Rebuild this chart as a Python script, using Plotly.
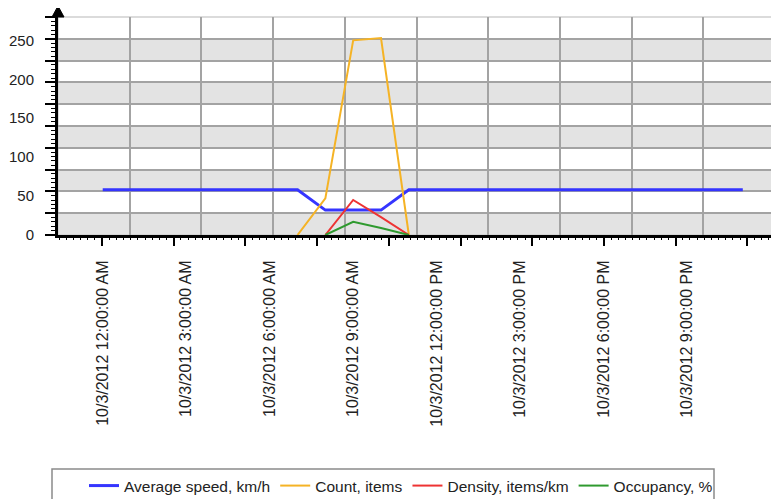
import plotly.graph_objects as go

# ---------------- data ----------------
hours = list(range(24))
times = [f"2012-10-03 {h:02d}:00:00" for h in hours]

speed = [58, 58, 58, 58, 58, 58, 58, 58, 32, 32, 32, 58,
         58, 58, 58, 58, 58, 58, 58, 58, 58, 58, 58, 58]
count = [None, None, None, None, None, None, None, 0, 47, 250, 253, 0,
         None, None, None, None, None, None, None, None, None, None, None, None]
density = [None, None, None, None, None, None, None, None, 0, 45, 23, 0,
           None, None, None, None, None, None, None, None, None, None, None, None]
occupancy = [None, None, None, None, None, None, None, None, 0, 17, 9, 0,
             None, None, None, None, None, None, None, None, None, None, None, None]

series_names = ["Average speed, km/h", "Count, items", "Density, items/km", "Occupancy, %"]
series_colors = ["#3535ff", "#f5b325", "#ee3333", "#2f9a2f"]
series_widths = [3, 2, 2, 2]

tick_times = ["2012-10-03 00:00:00", "2012-10-03 03:00:00", "2012-10-03 06:00:00",
              "2012-10-03 09:00:00", "2012-10-03 12:00:00", "2012-10-03 15:00:00",
              "2012-10-03 18:00:00", "2012-10-03 21:00:00"]
tick_text = ["10/3/2012 12:00:00 AM", "10/3/2012 3:00:00 AM", "10/3/2012 6:00:00 AM",
             "10/3/2012 9:00:00 AM", "10/3/2012 12:00:00 PM", "10/3/2012 3:00:00 PM",
             "10/3/2012 6:00:00 PM", "10/3/2012 9:00:00 PM"]
y_ticks = [0, 50, 100, 150, 200, 250]

x_range = ["2012-10-02 22:23:36", "2012-10-04 00:09:25"]
y_range = [0, 280]

# ---------------- layout geometry ----------------
# page body has an 8px margin, so the figure is offset by (8, 8)
OFF = 8
W, H = 779 - OFF, 499 - OFF
ML, MR, MT = 58 - OFF, 4, 17 - OFF
PW = W - ML - MR          # 717
PH = 218
MB = H - MT - PH
PLOT_TOP = 17             # page pixel of plot top
FONT = "Liberation Sans, Arial, sans-serif"


def py(page_y):
    """page pixel y -> paper y"""
    return (PLOT_TOP + PH - page_y) / PH


def px(page_x):
    """page pixel x -> paper x"""
    return (page_x - 58) / PW


fig = go.Figure()
for name, vals, col, lw in zip(series_names, [speed, count, density, occupancy],
                               series_colors, series_widths):
    fig.add_trace(go.Scatter(x=times, y=vals, mode="lines", name=name,
                             line=dict(color=col, width=lw), connectgaps=False))

# dummy traces to activate helper axes
fig.add_trace(go.Scatter(x=[None], y=[None], xaxis="x2", yaxis="y2",
                         showlegend=False, hoverinfo="skip"))
fig.add_trace(go.Scatter(x=[None], y=[None], xaxis="x3", yaxis="y2",
                         showlegend=False, hoverinfo="skip"))

shapes = []
# alternating bands
for k in range(0, 10, 2):
    shapes.append(dict(type="rect", xref="paper", yref="y2", x0=0, x1=1, y0=k, y1=k + 1,
                       fillcolor="#e3e3e3", line=dict(width=0), layer="below"))
# plot border (light)
shapes.append(dict(type="rect", xref="paper", yref="paper", x0=0, x1=1, y0=0, y1=1,
                   line=dict(color="#cfcfcf", width=1.5), layer="below"))
# arrow on y axis
shapes.append(dict(type="path", xref="paper", yref="paper",
                   path=f"M {-6/PW} 1 L {6/PW} 1 L 0 {1 + 11/PH} Z",
                   fillcolor="black", line=dict(color="black", width=1)))
# arrow on x axis
shapes.append(dict(type="path", xref="paper", yref="paper",
                   path=f"M 1 {6/PH} L 1 {-6/PH} L {1 + 12/PW} 0 Z",
                   fillcolor="black", line=dict(color="black", width=1)))
# legend box
shapes.append(dict(type="rect", xref="paper", yref="paper",
                   x0=px(52), x1=px(714), y0=py(469), y1=py(530),
                   line=dict(color="#8a8a8a", width=1.5), fillcolor="rgba(0,0,0,0)"))

fig.update_layout(
    width=W, height=H,
    margin=dict(l=ML, r=MR, t=MT, b=MB, autoexpand=False),
    paper_bgcolor="white", plot_bgcolor="white",
    font=dict(family=FONT, size=16, color="#222222"),
    showlegend=True,
    legend=dict(orientation="h", x=px(401), xanchor="center",
                y=py(486), yanchor="middle",
                font=dict(family=FONT, size=15.5, color="#222222"),
                bgcolor="rgba(0,0,0,0)", borderwidth=0),
    xaxis=dict(type="date", range=x_range, tickmode="array", tickvals=tick_times,
               ticktext=tick_text, tickangle=-90, ticks="", showgrid=False,
               zeroline=False, showline=True, linecolor="black", linewidth=3,
               ticklabelstandoff=16, tickfont=dict(size=16, color="#222222")),
    xaxis2=dict(overlaying="x", anchor="y", side="bottom", range=[0, 10],
                tickmode="linear", tick0=0.614, dtick=1, ticks="outside", ticklen=10,
                tickwidth=1.5, tickcolor="black", showticklabels=False,
                showgrid=False, zeroline=False, showline=False,
                minor=dict(tick0=0.614, dtick=0.1, ticks="outside", ticklen=4,
                           tickwidth=1, tickcolor="black", showgrid=False)),
    xaxis3=dict(overlaying="x", anchor="y", side="bottom", range=[0, 10],
                tickmode="linear", tick0=0, dtick=1, ticks="", showticklabels=False,
                showgrid=True, gridcolor="#a3a3a3", gridwidth=1.5,
                zeroline=False, showline=False),
    yaxis=dict(range=y_range, tickmode="array", tickvals=y_ticks, ticks="",
               showgrid=False, zeroline=False, showline=True, linecolor="black",
               linewidth=3, ticklabelstandoff=18,
               tickfont=dict(size=15, color="#222222")),
    yaxis2=dict(overlaying="y", anchor="x", side="left", range=[0, 10],
                tickmode="linear", tick0=0, dtick=1, ticks="outside", ticklen=12,
                tickwidth=1.5, tickcolor="black", showticklabels=False,
                showgrid=True, gridcolor="#a3a3a3", gridwidth=1.5,
                zeroline=False, showline=False,
                minor=dict(tick0=0, dtick=0.2, ticks="outside", ticklen=6,
                           tickwidth=1, tickcolor="black", showgrid=False)),
    shapes=shapes,
)

fig.write_html("out.html")
